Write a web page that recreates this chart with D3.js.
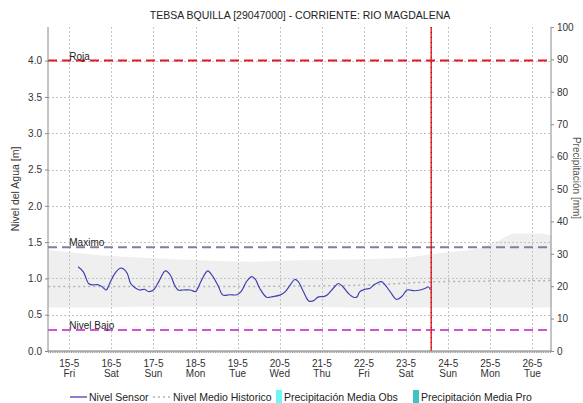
<!DOCTYPE html>
<html>
<head>
<meta charset="utf-8">
<script src="https://cdn.jsdelivr.net/npm/d3@7"></script>
<style>
  body { margin: 0; background: #fff; }
  svg { display: block; font-family: "Liberation Sans", Arial, sans-serif; }
</style>
</head>
<body>
<svg id="chart" width="583" height="403"></svg>
<script>
// ---- data ----------------------------------------------------------------
const chartTitle = "TEBSA BQUILLA [29047000] - CORRIENTE: RIO MAGDALENA";
const levelAxisTitle = "Nivel del Agua [m]";
const precipAxisTitle = "Precipitación [mm]";

// hours counted from 15-5 00:00
const sensorHours = [5, 8, 11, 13, 16, 18.5, 21, 23, 26, 29, 31, 33, 35, 37.5, 40, 43, 45, 48, 51, 54, 55, 57.5,
  60, 62, 65, 69, 72, 74.5, 77.5, 79, 82, 85, 87.5, 91.5, 95.5, 98, 101, 104, 106, 108.5, 112.5, 116, 120,
  123, 126, 128.5, 130.5, 133.5, 136.5, 139, 142, 145, 147, 150.5, 153.5, 156, 159, 162, 164, 165.5, 168.5,
  171.5, 173.5, 175, 178, 180, 183, 186.5, 189.5, 192.5, 194, 197, 200, 203, 204.5, 206];
const sensorLevels = [1.16, 1.09, 0.93, 0.91, 0.915, 0.89, 0.84, 0.93, 1.07, 1.14, 1.13, 1.07, 0.93, 0.87, 0.84,
  0.85, 0.82, 0.84, 0.955, 1.09, 1.105, 1.05, 0.91, 0.84, 0.84, 0.84, 0.82, 0.93, 1.07, 1.105, 1.02, 0.89, 0.77,
  0.775, 0.775, 0.82, 0.955, 1.025, 0.99, 0.865, 0.74, 0.75, 0.77, 0.815, 0.91, 0.985, 0.955, 0.815, 0.69, 0.69,
  0.745, 0.75, 0.77, 0.865, 0.93, 0.885, 0.795, 0.74, 0.745, 0.815, 0.85, 0.865, 0.91, 0.93, 0.955, 0.91, 0.815,
  0.71, 0.75, 0.84, 0.84, 0.83, 0.84, 0.865, 0.885, 0.84];

const meanHours  = [-12, 12, 36, 60, 84, 108, 132, 156, 180, 204, 228, 252, 275];
const meanLevels = [0.89, 0.89, 0.89, 0.89, 0.89, 0.89, 0.895, 0.9, 0.92, 0.95, 0.96, 0.965, 0.97];

const bandHours = [-12, 17.5, 46, 74.5, 103, 131.5, 160, 188.5, 211.5, 234, 245.5, 254, 268.5, 275];
const bandUpper = [1.39, 1.32, 1.28, 1.25, 1.23, 1.25, 1.26, 1.28, 1.35, 1.42, 1.53, 1.62, 1.62, 1.59];
const bandLower = [0.6, 0.6, 0.61, 0.61, 0.61, 0.61, 0.6, 0.6, 0.6, 0.6, 0.6, 0.6, 0.6, 0.6];

const thresholdNames  = ["Roja", "Maximo", "Nivel Bajo"];
const thresholdLevels = [4.0, 1.43, 0.29];

const dayLabels     = ["15-5", "16-5", "17-5", "18-5", "19-5", "20-5", "21-5", "22-5", "23-5", "24-5", "25-5", "26-5"];
const weekdayLabels = ["Fri", "Sat", "Sun", "Mon", "Tue", "Wed", "Thu", "Fri", "Sat", "Sun", "Mon", "Tue"];

const levelTicks  = [0, 0.5, 1, 1.5, 2, 2.5, 3, 3.5, 4];
const precipTicks = [0, 10, 20, 30, 40, 50, 60, 70, 80, 90, 100];

const nowHour = 206.3;

const legendLabels = ["Nivel Sensor", "Nivel Medio Historico", "Precipitación Media Obs", "Precipitación Media Pro"];

// ---- layout --------------------------------------------------------------
const plot = { left: 48, right: 551, top: 27, bottom: 351 };
const baseDate = new Date(2020, 4, 15, 0, 0, 0);
const hourMs = 3600 * 1000;
const toDate = h => new Date(baseDate.getTime() + h * hourMs);

const thresholdColors = ["#e8161a", "#7f7f9c", "#d452d4"];
const sensorColor = "#4141b3";

const svg = d3.select("#chart");

const x = d3.scaleTime()
  .domain([toDate(-12.14), toDate(274.6)])
  .range([plot.left, plot.right]);
const yLevel = d3.scaleLinear().domain([0, 4.463]).range([plot.bottom, plot.top]);
const yPrecip = d3.scaleLinear().domain([0, 100]).range([plot.bottom, plot.top]);

const dayTicks = dayLabels.map((d, i) => toDate(i * 24));

// historical range band
const band = bandHours.map((h, i) => ({ t: toDate(h), hi: bandUpper[i], lo: bandLower[i] }));
svg.append("path")
  .datum(band)
  .attr("fill", "#efefef")
  .attr("d", d3.area().x(d => x(d.t)).y0(d => yLevel(d.lo)).y1(d => yLevel(d.hi)).curve(d3.curveMonotoneX));

// grid
const grid = svg.append("g").attr("stroke", "#c4c4c4").attr("stroke-width", 1).attr("stroke-dasharray", "2,2");
grid.selectAll("line.v").data(dayTicks).join("line")
  .attr("x1", d => Math.round(x(d)) + 0.5).attr("x2", d => Math.round(x(d)) + 0.5)
  .attr("y1", plot.top).attr("y2", plot.bottom);
grid.selectAll("line.h").data(levelTicks.slice(1)).join("line")
  .attr("x1", plot.left).attr("x2", plot.right)
  .attr("y1", d => Math.round(yLevel(d)) + 0.5).attr("y2", d => Math.round(yLevel(d)) + 0.5);

// historical mean
const meanPts = meanHours.map((h, i) => ({ t: toDate(h), v: meanLevels[i] }));
svg.append("path")
  .datum(meanPts)
  .attr("fill", "none")
  .attr("stroke", "#b3b3b3")
  .attr("stroke-width", 1.5)
  .attr("stroke-dasharray", "2,3")
  .attr("d", d3.line().x(d => x(d.t)).y(d => yLevel(d.v)).curve(d3.curveMonotoneX));

// threshold lines + labels
thresholdLevels.forEach((v, i) => {
  svg.append("line")
    .attr("x1", plot.left).attr("x2", plot.right)
    .attr("y1", yLevel(v)).attr("y2", yLevel(v))
    .attr("stroke", thresholdColors[i])
    .attr("stroke-width", 2)
    .attr("stroke-dasharray", "9,5");
  svg.append("text")
    .attr("x", x(dayTicks[0]))
    .attr("y", yLevel(v) - 1)
    .attr("font-size", 10)
    .attr("fill", "#222")
    .text(thresholdNames[i]);
});

// sensor series
const sensorPts = sensorHours.map((h, i) => ({ t: toDate(h), v: sensorLevels[i] }));
svg.append("path")
  .datum(sensorPts)
  .attr("fill", "none")
  .attr("stroke", sensorColor)
  .attr("stroke-width", 1.2)
  .attr("stroke-linejoin", "round")
  .attr("d", d3.line().x(d => x(d.t)).y(d => yLevel(d.v)).curve(d3.curveCatmullRom.alpha(0.5)));

// current time marker
const nowX = x(toDate(nowHour));
svg.append("line")
  .attr("x1", nowX).attr("x2", nowX).attr("y1", plot.top).attr("y2", plot.bottom)
  .attr("stroke", "#e11b1b").attr("stroke-width", 1.4);
svg.append("line")
  .attr("x1", nowX).attr("x2", nowX).attr("y1", plot.top).attr("y2", plot.bottom)
  .attr("stroke", "#7a0d0d").attr("stroke-width", 0.8).attr("stroke-dasharray", "1,4");

// left axis
const axL = svg.append("g")
  .attr("transform", `translate(${plot.left},0)`)
  .call(d3.axisLeft(yLevel).tickValues(levelTicks).tickFormat(d3.format(".1f")).tickSize(3).tickPadding(3));
axL.select(".domain").attr("stroke", "#8a8a8a").attr("d", `M0,${plot.top}V${plot.bottom}`);
axL.selectAll(".tick line").attr("stroke", "#8a8a8a");
axL.selectAll(".tick text").attr("font-size", 10).attr("fill", "#333").attr("font-family", "Liberation Sans, Arial, sans-serif");

// right axis
const axR = svg.append("g")
  .attr("transform", `translate(${plot.right},0)`)
  .call(d3.axisRight(yPrecip).tickValues(precipTicks).tickFormat(d3.format("d")).tickSize(3).tickPadding(3));
axR.select(".domain").attr("stroke", "#8a8a8a").attr("d", `M0,${plot.top}V${plot.bottom}`);
axR.selectAll(".tick line").attr("stroke", "#8a8a8a");
axR.selectAll(".tick text").attr("font-size", 10).attr("fill", "#333").attr("font-family", "Liberation Sans, Arial, sans-serif");

// bottom axis with hourly minor ticks
const hourTicks = d3.timeHours(x.domain()[0], x.domain()[1], 1);
const axB = svg.append("g")
  .attr("transform", `translate(0,${plot.bottom})`)
  .call(d3.axisBottom(x).tickValues(hourTicks).tickFormat("").tickSize(2));
axB.select(".domain").attr("stroke", "#7a7a7a").attr("d", `M${plot.left},0H${plot.right}`);
axB.selectAll(".tick line").attr("stroke", "#9a9a9a");

const dayText = svg.append("g")
  .attr("font-size", 10).attr("fill", "#333").attr("text-anchor", "middle");
dayTicks.forEach((d, i) => {
  const t = dayText.append("text").attr("x", x(d));
  t.append("tspan").attr("x", x(d)).attr("y", 367).text(dayLabels[i]);
  t.append("tspan").attr("x", x(d)).attr("y", 377).text(weekdayLabels[i]);
});

// titles
svg.append("text")
  .attr("x", 300).attr("y", 19)
  .attr("text-anchor", "middle")
  .attr("font-size", 10.5).attr("fill", "#222")
  .text(chartTitle);
svg.append("text")
  .attr("transform", `translate(19,189) rotate(-90)`)
  .attr("text-anchor", "middle")
  .attr("font-size", 10.5).attr("fill", "#333")
  .text(levelAxisTitle);
svg.append("text")
  .attr("transform", `translate(573,178) rotate(90)`)
  .attr("text-anchor", "middle")
  .attr("font-size", 10).attr("fill", "#555")
  .text(precipAxisTitle);

// legend
const lg = svg.append("g").attr("font-size", 10.5).attr("fill", "#222");
const legendY = 397;
lg.append("line").attr("x1", 70).attr("x2", 87).attr("y1", legendY).attr("y2", legendY)
  .attr("stroke", sensorColor).attr("stroke-width", 1.3);
lg.append("text").attr("x", 89).attr("y", legendY + 4).text(legendLabels[0]);
lg.append("line").attr("x1", 153).attr("x2", 170).attr("y1", legendY).attr("y2", legendY)
  .attr("stroke", "#b3b3b3").attr("stroke-width", 1.5).attr("stroke-dasharray", "2,3");
lg.append("text").attr("x", 173).attr("y", legendY + 4).text(legendLabels[1]);
lg.append("rect").attr("x", 276).attr("y", 390).attr("width", 6).attr("height", 13).attr("fill", "#6cf6f6");
lg.append("text").attr("x", 284).attr("y", legendY + 4).text(legendLabels[2]);
lg.append("rect").attr("x", 413).attr("y", 390).attr("width", 6).attr("height", 13).attr("fill", "#3fc3c3");
lg.append("text").attr("x", 421).attr("y", legendY + 4).text(legendLabels[3]);
</script>
</body>
</html>
